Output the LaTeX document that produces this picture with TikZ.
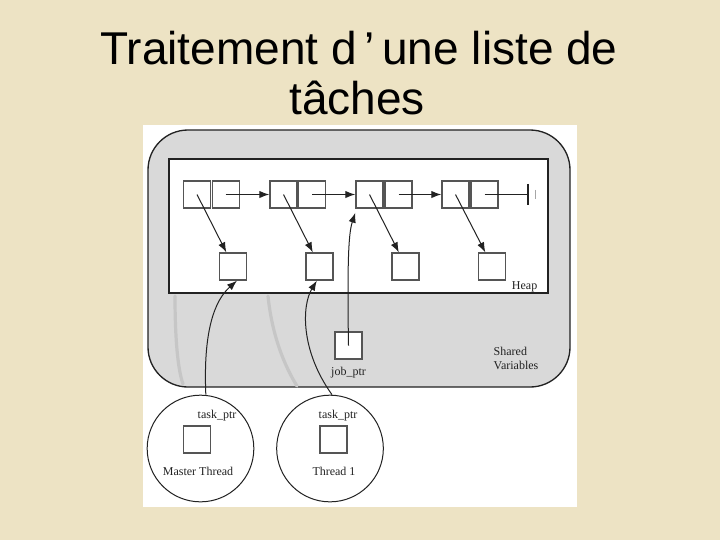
\documentclass[tikz,border=0pt]{standalone}
\usepackage{fontspec}
\setmainfont{Liberation Serif}
\newfontfamily\titlefont{Liberation Sans}
\usetikzlibrary{arrows.meta,positioning}

\definecolor{parchment}{HTML}{EDE3C4}
\definecolor{sharedgray}{HTML}{D9D9D9}
\definecolor{ghostgray}{HTML}{C6C6C6}
\definecolor{ink}{HTML}{222222}
\definecolor{boxline}{HTML}{555555}

\begin{document}
\begin{tikzpicture}[
    x=0.75pt, y=-0.75pt,
    every node/.style={font=\fontsize{9}{10.5}\selectfont, text=ink},
    cell/.style={
        rectangle,
        draw=boxline,
        fill=white,
        line width=1pt,
        minimum size=20.25pt,
        inner sep=0pt
    },
    thread/.style={
        circle,
        draw=ink,
        line width=0.75pt,
        minimum size=80pt,
        inner sep=0pt
    },
    ptr/.style={-{Latex[length=7.5pt,width=5.5pt]}, line width=0.75pt, ink},
    ghost/.style={line width=2.4pt, ghostgray, line cap=round}
]
\useasboundingbox (0,0) rectangle (720,540);
\fill[parchment] (0,0) rectangle (720,540);

% title
\node[font=\titlefont\fontsize{34.5}{40}\selectfont, text=black, anchor=base] (title1) at (359,64) {Traitement d\,’\,une liste de};
\node[font=\titlefont\fontsize{34.5}{40}\selectfont, text=black, anchor=base] (title2) at (357,114) {tâches};

% figure panel
\fill[white] (143,125) rectangle (577,507);
\draw[ink, line width=1pt, fill=sharedgray, rounded corners=30pt] (148,130) rectangle (570,387);
\draw[ghost] (175,296) .. controls (175,340) and (178,370) .. (183,384);
\draw[ghost] (268,296) .. controls (272,335) and (284,365) .. (297,386);
\draw[ink, line width=1pt, fill=white] (169,159) rectangle (548,293);
\node[anchor=base east] (heap) at (542,289) {Heap};

% linked list
\node[cell] (n1a) at (197,194.5) {};
\node[cell] (n1b) at (225.7,194.5) {};
\node[cell] (n2a) at (283.5,194.5) {};
\node[cell] (n2b) at (312,194.5) {};
\node[cell] (n3a) at (369.5,194.5) {};
\node[cell] (n3b) at (398.5,194.5) {};
\node[cell] (n4a) at (455.5,194.5) {};
\node[cell] (n4b) at (484.5,194.5) {};

% tasks
\node[cell] (t1) at (233,266.5) {};
\node[cell] (t2) at (319.5,266.5) {};
\node[cell] (t3) at (405.5,266.5) {};
\node[cell] (t4) at (492,266.5) {};

\draw[ptr] (n1b.center) -- (n2a.west);
\draw[ptr] (n2b.center) -- (n3a.west);
\draw[ptr] (n3b.center) -- (n4a.west);

% null end
\coordinate (nil) at (528,194.5);
\draw[line width=0.75pt, ink] (n4b.center) -- (nil);
\draw[line width=1pt, ink] ([yshift=8pt]nil) -- ([yshift=-8pt]nil);
\draw[line width=0.75pt, gray!70] ([xshift=5.5pt,yshift=3.5pt]nil) -- ([xshift=5.5pt,yshift=-3.5pt]nil);

\draw[ptr] (n1a.center) -- ([xshift=-5pt]t1.north);
\draw[ptr] (n2a.center) -- ([xshift=-5pt]t2.north);
\draw[ptr] (n3a.center) -- ([xshift=-5pt]t3.north);
\draw[ptr] (n4a.center) -- ([xshift=-5pt]t4.north);

% shared variables
\node[cell] (jp) at (348.5,345.5) {};
\node[below=2pt of jp] (jplabel) {job\_ptr};
\node[anchor=north west, align=left] (shared) at (489,342) {Shared\\Variables};

% threads
\node[thread] (master) at (200.5,448.5) {};
\node[thread] (thr1) at (330,448.5) {};

\node[cell] (mptr) at (197,439.5) {};
\node[cell] (tptr) at (333.5,439.5) {};
\node[anchor=base] (mlabel) at (217,418) {task\_ptr};
\node[anchor=base] (tlabel) at (338,418) {task\_ptr};
\node[anchor=base] (mname) at (198,475) {Master Thread};
\node[anchor=base] (tname) at (334,475) {Thread 1};

\draw[ptr] ([xshift=4pt]master.north) .. controls (203,330) and (215,300) .. ([xshift=3pt]t1.south);
\draw[ptr] ([xshift=1.5pt]thr1.north) .. controls (300,350) and (302,305) .. ([xshift=-2pt]t2.south);
\draw[ptr] (jp.center) .. controls (347,255) and (349,232) .. ([yshift=-3pt]n3a.south west);

\end{tikzpicture}
\end{document}
